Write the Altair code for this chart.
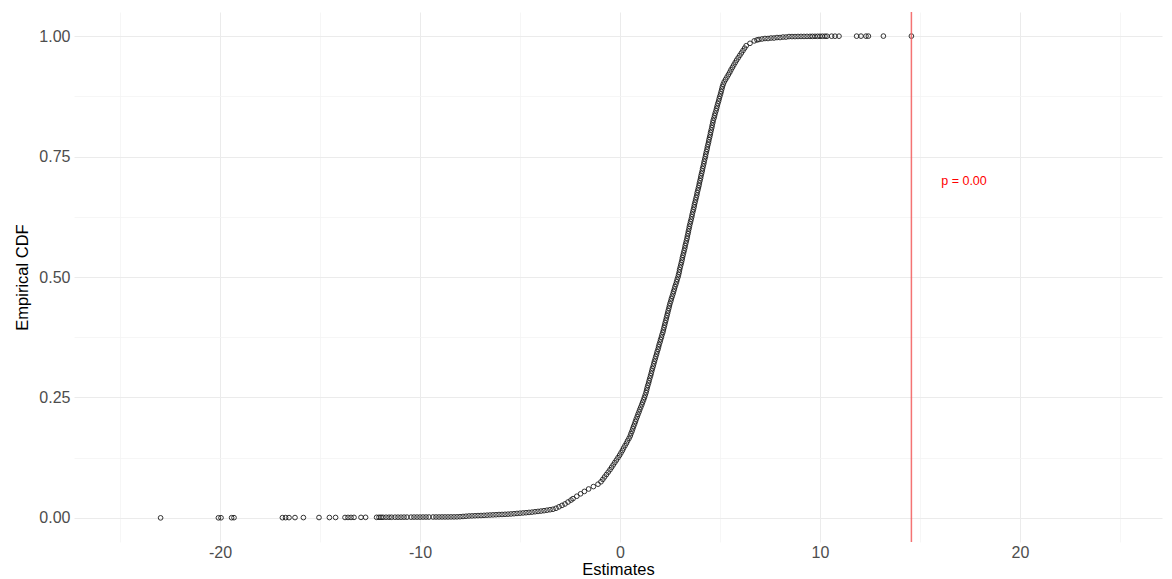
import altair as alt
import pandas as pd

# ---- data ----
lower_tail_x = [-22.97, -20.08, -19.95, -19.42, -19.30, -16.88, -16.72, -16.55, -16.25, -15.83,
                -15.05, -14.53, -14.22, -13.75, -13.60, -13.45, -13.30, -12.95, -12.72, -12.17,
                -12.05, -11.95, -11.85, -11.70, -11.55, -11.42, -11.25, -11.10, -10.95, -10.80,
                -10.65, -10.45, -10.30, -10.15, -10.00, -9.85, -9.70, -9.55, -9.35, -9.20,
                -9.05, -8.90, -8.75, -8.60, -8.45, -8.30]
lower_tail_cdf = [0.0001, 0.0002, 0.0003, 0.0004, 0.0005, 0.0005, 0.0006, 0.0006, 0.0007, 0.0007,
                  0.0008, 0.0008, 0.0009, 0.0009, 0.0010, 0.0010, 0.0011, 0.0011, 0.0012, 0.0012,
                  0.0013, 0.0013, 0.0013, 0.0014, 0.0014, 0.0014, 0.0015, 0.0015, 0.0015, 0.0016,
                  0.0016, 0.0016, 0.0017, 0.0017, 0.0017, 0.0018, 0.0018, 0.0018, 0.0019, 0.0019,
                  0.0019, 0.0020, 0.0020, 0.0020, 0.0021, 0.0021]

bend_x = [-8.15, -8.00, -7.85, -7.70, -7.55, -7.40, -7.25, -7.10, -6.95, -6.80,
          -6.65, -6.50, -6.35, -6.20, -6.05, -5.90, -5.75, -5.60, -5.45, -5.30,
          -5.15, -5.00, -4.85, -4.70, -4.55, -4.40, -4.25, -4.10, -3.95, -3.80,
          -3.65, -3.50, -3.35, -3.20, -3.05, -2.90, -2.75, -2.60, -2.45]
bend_cdf = [0.0022, 0.0025, 0.0030, 0.0035, 0.0040, 0.0042, 0.0045, 0.0048, 0.0050, 0.0053,
            0.0057, 0.0060, 0.0063, 0.0066, 0.0070, 0.0072, 0.0075, 0.0078, 0.0082, 0.0087,
            0.0093, 0.0098, 0.0103, 0.0108, 0.0114, 0.0120, 0.0128, 0.0135, 0.0142, 0.0150,
            0.0160, 0.0170, 0.0180, 0.0200, 0.0230, 0.0260, 0.0290, 0.0330, 0.0370]

body_x = [-2.35, -2.16, -1.97, -1.78, -1.57, -1.33, -1.10, -0.95, -0.86, -0.77,
          -0.68, -0.59, -0.50, -0.42, -0.34, -0.26, -0.18, -0.10, -0.02, 0.05,
          0.12, 0.18, 0.25, 0.32, 0.38, 0.45, 0.51, 0.55, 0.60, 0.64,
          0.68, 0.73, 0.77, 0.81, 0.86, 0.90, 0.95, 0.99, 1.04, 1.09,
          1.13, 1.18, 1.22, 1.26, 1.30, 1.33, 1.36, 1.39, 1.43, 1.46,
          1.49, 1.53, 1.56, 1.59, 1.62, 1.66, 1.69, 1.72, 1.76, 1.79,
          1.83, 1.86, 1.90, 1.93, 1.96, 2.00, 2.03, 2.07, 2.10, 2.14,
          2.17, 2.20, 2.23, 2.26, 2.29, 2.32, 2.35, 2.38, 2.41, 2.44,
          2.47, 2.50, 2.54, 2.57, 2.61, 2.65, 2.68, 2.72, 2.75, 2.79,
          2.83, 2.86, 2.90, 2.93, 2.96, 2.98, 3.01, 3.04, 3.07, 3.10,
          3.12, 3.15, 3.18, 3.21, 3.24, 3.26, 3.29, 3.32, 3.35, 3.37,
          3.40, 3.42, 3.45, 3.47, 3.50, 3.53, 3.56, 3.59, 3.61, 3.64,
          3.67, 3.70, 3.72, 3.75, 3.78, 3.81, 3.84, 3.86, 3.89, 3.92,
          3.95, 3.97, 4.00, 4.03, 4.05, 4.08, 4.11, 4.13, 4.16, 4.19,
          4.21, 4.24, 4.27, 4.29, 4.32, 4.35, 4.37, 4.40, 4.43, 4.45,
          4.48, 4.51, 4.53, 4.56, 4.59, 4.61, 4.64, 4.66, 4.70, 4.73,
          4.76, 4.80, 4.83, 4.86, 4.89, 4.93, 4.96, 4.99, 5.03, 5.06,
          5.09, 5.12, 5.16, 5.21, 5.28, 5.35, 5.42, 5.49, 5.55, 5.62,
          5.69, 5.76, 5.83, 5.91, 5.99, 6.07, 6.15, 6.23, 6.31, 6.50,
          6.71]
body_cdf = [0.040, 0.045, 0.050, 0.055, 0.060, 0.065, 0.070, 0.075, 0.080, 0.085,
            0.090, 0.095, 0.100, 0.105, 0.110, 0.115, 0.120, 0.125, 0.130, 0.135,
            0.140, 0.145, 0.150, 0.155, 0.160, 0.165, 0.170, 0.175, 0.180, 0.185,
            0.190, 0.195, 0.200, 0.205, 0.210, 0.215, 0.220, 0.225, 0.230, 0.235,
            0.240, 0.245, 0.250, 0.255, 0.260, 0.265, 0.270, 0.275, 0.280, 0.285,
            0.290, 0.295, 0.300, 0.305, 0.310, 0.315, 0.320, 0.325, 0.330, 0.335,
            0.340, 0.345, 0.350, 0.355, 0.360, 0.365, 0.370, 0.375, 0.380, 0.385,
            0.390, 0.395, 0.400, 0.405, 0.410, 0.415, 0.420, 0.425, 0.430, 0.435,
            0.440, 0.445, 0.450, 0.455, 0.460, 0.465, 0.470, 0.475, 0.480, 0.485,
            0.490, 0.495, 0.500, 0.505, 0.510, 0.515, 0.520, 0.525, 0.530, 0.535,
            0.540, 0.545, 0.550, 0.555, 0.560, 0.565, 0.570, 0.575, 0.580, 0.585,
            0.590, 0.595, 0.600, 0.605, 0.610, 0.615, 0.620, 0.625, 0.630, 0.635,
            0.640, 0.645, 0.650, 0.655, 0.660, 0.665, 0.670, 0.675, 0.680, 0.685,
            0.690, 0.695, 0.700, 0.705, 0.710, 0.715, 0.720, 0.725, 0.730, 0.735,
            0.740, 0.745, 0.750, 0.755, 0.760, 0.765, 0.770, 0.775, 0.780, 0.785,
            0.790, 0.795, 0.800, 0.805, 0.810, 0.815, 0.820, 0.825, 0.830, 0.835,
            0.840, 0.845, 0.850, 0.855, 0.860, 0.865, 0.870, 0.875, 0.880, 0.885,
            0.890, 0.895, 0.900, 0.905, 0.910, 0.915, 0.920, 0.925, 0.930, 0.935,
            0.940, 0.945, 0.950, 0.955, 0.960, 0.965, 0.970, 0.975, 0.980, 0.985,
            0.990]

top_x = [6.85, 6.95, 7.10, 7.25, 7.40, 7.55, 7.70, 7.85, 8.00, 8.15, 8.30, 8.45, 8.60, 8.75]
top_cdf = [0.992, 0.993, 0.994, 0.995, 0.995, 0.996, 0.996, 0.997, 0.997, 0.998, 0.998, 0.999, 0.999, 0.999]

upper_tail_x = [8.90, 9.05, 9.20, 9.35, 9.50, 9.62, 9.75, 9.88, 10.00, 10.12,
                10.25, 10.35, 10.58, 10.75, 10.95, 11.83, 12.05, 12.30, 12.42, 13.17, 14.57]
upper_tail_cdf = [0.9992, 0.9993, 0.9993, 0.9994, 0.9994, 0.9995, 0.9995, 0.9996, 0.9996, 0.9997,
                  0.9997, 0.9997, 0.9998, 0.9998, 0.9998, 0.9999, 0.9999, 0.9999, 0.9999, 1.0, 1.0]

observed_estimate = 14.57
p_label = "p = 0.00"
p_label_x = 17.2
p_label_y = 0.70

# ---- build table ----
est = lower_tail_x + bend_x + body_x + top_x + upper_tail_x
cdf = lower_tail_cdf + bend_cdf + body_cdf + top_cdf + upper_tail_cdf
df = pd.DataFrame({"Estimates": est, "ECDF": cdf})

FONT = "Liberation Sans"

x_scale = alt.Scale(domain=[-27.3, 27.1], nice=False, zero=False)
y_scale = alt.Scale(domain=[-0.05, 1.05], nice=False, zero=False)

x_axis = alt.Axis(
    values=[-25, -20, -15, -10, -5, 0, 5, 10, 15, 20, 25],
    labelExpr="datum.value % 10 === 0 ? '' + datum.value : ''",
    title="Estimates",
    domain=False, ticks=False,
    labelFontSize=16, labelColor="#4D4D4D", labelFont=FONT, labelPadding=2,
    titleFontSize=16.5, titleColor="#000000", titleFont=FONT, titleFontWeight="normal",
    titlePadding=1,
    gridColor={"condition": {"test": "datum.value % 10 === 0", "value": "#EBEBEB"}, "value": "#F4F4F4"},
    gridWidth={"condition": {"test": "datum.value % 10 === 0", "value": 1}, "value": 0.8},
)
y_axis = alt.Axis(
    values=[0, 0.125, 0.25, 0.375, 0.5, 0.625, 0.75, 0.875, 1.0],
    labelExpr="(datum.value * 4) % 1 === 0 ? format(datum.value, '.2f') : ''",
    title="Empirical CDF",
    domain=False, ticks=False,
    labelFontSize=16, labelColor="#4D4D4D", labelFont=FONT, labelPadding=4,
    titleFontSize=16.5, titleColor="#000000", titleFont=FONT, titleFontWeight="normal",
    titlePadding=8,
    gridColor={"condition": {"test": "(datum.value * 4) % 1 === 0", "value": "#EBEBEB"}, "value": "#F4F4F4"},
    gridWidth={"condition": {"test": "(datum.value * 4) % 1 === 0", "value": 1}, "value": 0.8},
)

points = alt.Chart(df).mark_point(
    shape="circle", filled=False, size=22, stroke="#111111", strokeWidth=1.0, opacity=0.85
).encode(
    x=alt.X("Estimates:Q", scale=x_scale, axis=x_axis),
    y=alt.Y("ECDF:Q", scale=y_scale, axis=y_axis),
)

rule = alt.Chart(pd.DataFrame({"Estimates": [observed_estimate]})).mark_rule(
    color="#F25A5A", strokeWidth=1.5, opacity=0.85
).encode(x=alt.X("Estimates:Q", scale=x_scale))

label = alt.Chart(pd.DataFrame({"Estimates": [p_label_x], "ECDF": [p_label_y], "t": [p_label]})).mark_text(
    color="#FF0000", fontSize=12.5, font=FONT, align="center", baseline="middle"
).encode(
    x=alt.X("Estimates:Q", scale=x_scale),
    y=alt.Y("ECDF:Q", scale=y_scale),
    text="t:N",
)

chart = alt.layer(points, rule, label).properties(
    width=1088, height=530,
    autosize=alt.AutoSizeParams(type="none"),
    padding={"left": 74, "top": 12, "right": 10, "bottom": 37},
    background="white",
).configure_view(stroke=None)

chart.save("out.html", embed_options={"renderer": "svg", "actions": False})
